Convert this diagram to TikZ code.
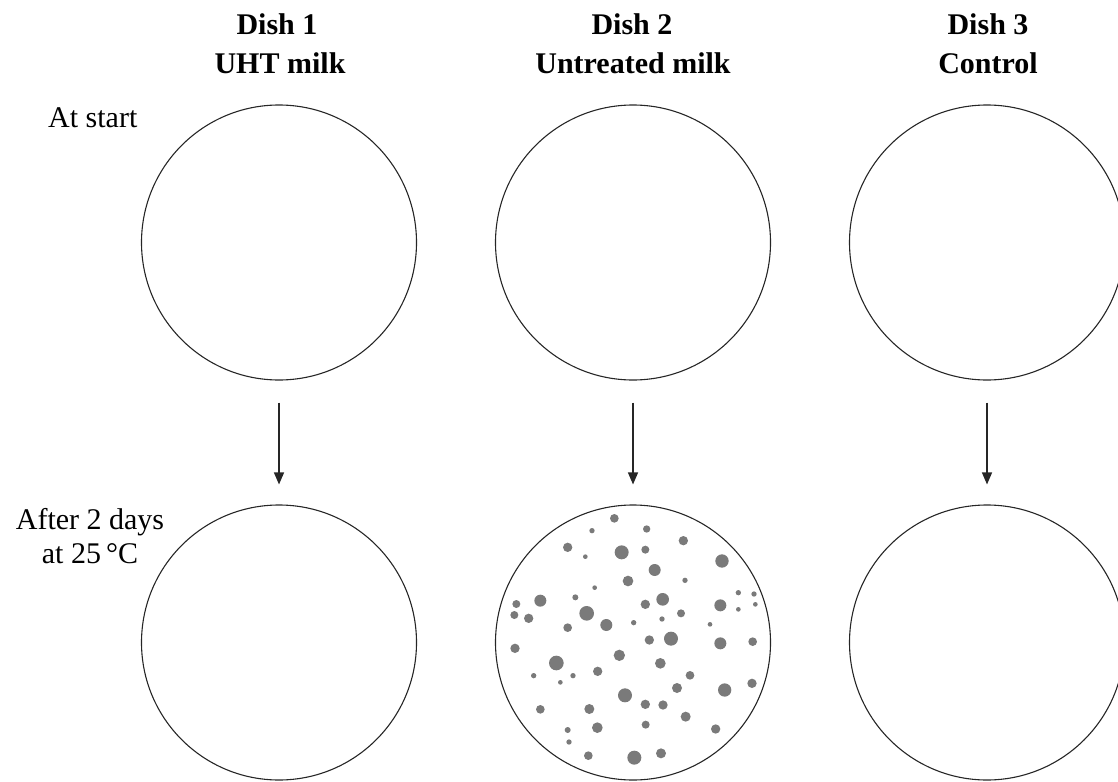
\documentclass[tikz,border=0pt]{standalone}
\usepackage{fontspec}
\setmainfont{Liberation Serif}
\usetikzlibrary{arrows.meta}
\begin{document}
\begin{tikzpicture}[x=1pt,y=-1pt,
  hdr/.style={font=\fontsize{30}{36}\selectfont\bfseries, inner sep=0pt, anchor=base},
  lbl/.style={font=\fontsize{30}{34}\selectfont, inner sep=0pt, anchor=base},
  dish/.style={draw=black!85, line width=1.1pt, circle, minimum size=275pt, inner sep=0pt},
  arr/.style={draw=black!85, line width=1.3pt, -{Triangle[length=12pt,width=10pt]}},
  dotc/.style={fill=black!52}]
\useasboundingbox (0,0) rectangle (1118,781);
% headers
\node[hdr] (h1a) at (277,35) {Dish 1};
\node[hdr] (h1b) at (280,74) {UHT milk};
\node[hdr] (h2a) at (632,35) {Dish 2};
\node[hdr] (h2b) at (633,74) {Untreated milk};
\node[hdr] (h3a) at (988,35) {Dish 3};
\node[hdr] (h3b) at (988,74) {Control};
% row labels
\node[lbl, anchor=base west] (ls) at (48,128) {At start};
\node[lbl] (la1) at (90,529) {After 2 days};
\node[lbl] (la2) at (90,563) {at 25\,°C};
% dishes
\node[dish] (c1t) at (279,242.5) {};
\node[dish] (c2t) at (633,242.5) {};
\node[dish] (c3t) at (987,242.5) {};
\node[dish] (c1b) at (279,642.5) {};
\node[dish] (c2b) at (633,642.5) {};
\node[dish] (c3b) at (987,642.5) {};
% arrows
\draw[arr] ([yshift=-22pt]c1t.south) -- ([yshift=20pt]c1b.north);
\draw[arr] ([yshift=-22pt]c2t.south) -- ([yshift=20pt]c2b.north);
\draw[arr] ([yshift=-22pt]c3t.south) -- ([yshift=20pt]c3b.north);
% colonies
\begin{scope}[shift={(491,490)}, scale=1/3]
\foreach \px/\py/\r in {
 370/85/13, 467/117/11, 303/122/8, 577/152/14, 230/172/14, 392/187/21,
 463/179/12, 283/200/7, 693/213/20, 491/240/18, 411/273/16, 582/271/8,
 311/293/7, 742/308/8, 789/312/8, 148/332/18, 253/322/9, 515/328/19,
 76/342/12, 463/343/14, 688/346/18, 793/343/7, 70/375/12, 113/385/14,
 287/370/22, 570/370/12, 742/358/7, 513/387/8, 346/405/18, 428/398/8,
 230/413/13, 657/403/7, 540/446/21, 475/450/14, 688/460/18, 785/455/13,
 72/475/14, 385/496/17, 196/519/22, 508/520/16, 320/544/14, 597/556/13,
 128/557/8, 246/557/8, 208/577/7, 558/594/15, 783/580/14, 701/600/20,
 402/616/21, 463/643/14, 516/645/14, 148/658/13, 295/657/15, 584/680/15,
 464/704/12, 319/713/16, 230/720/9, 674/717/14, 234/756/8, 292/797/13,
 430/803/21, 510/790/15}
  \fill[dotc] (\px,\py) circle (\r);
\end{scope}
\end{tikzpicture}
\end{document}
